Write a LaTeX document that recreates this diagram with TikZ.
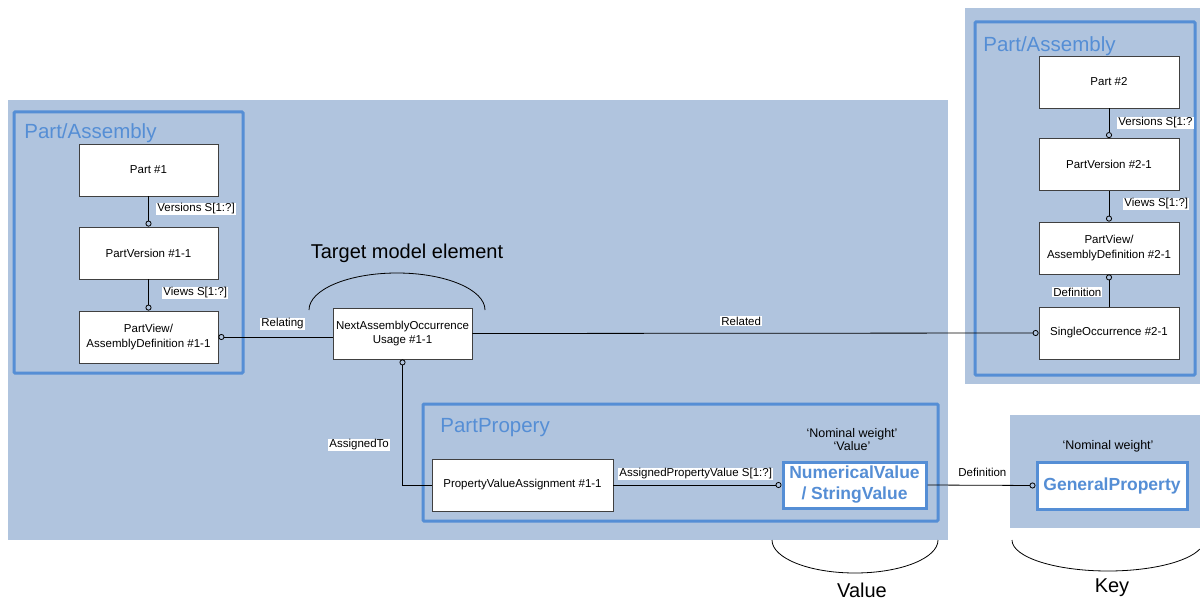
\documentclass[tikz,border=0pt]{standalone}
\usepackage{fontspec}
\setmainfont{Liberation Sans}
\usetikzlibrary{arrows.meta}
\definecolor{panelgray}{RGB}{176,196,222}
\definecolor{frameblue}{RGB}{85,142,213}

\begin{document}
\begin{tikzpicture}[x=1pt,y=-1pt,>={Circle[open,length=6pt]},line width=0.8pt,
  box/.style={draw=black!75,fill=white,inner sep=0pt,align=center,
    minimum width=139,minimum height=52,font=\fontsize{11.5}{14.5}\selectfont},
  keybox/.style={draw=frameblue,line width=3pt,fill=white,inner sep=0pt,align=center,
    text=frameblue,font=\fontsize{17.5}{21}\bfseries\selectfont},
  frame/.style={draw=frameblue,line width=3pt,rounded corners=1pt},
  title/.style={anchor=base west,inner sep=0pt,text=frameblue,font=\fontsize{20.5}{24}\selectfont},
  lbl/.style={anchor=west,fill=white,inner sep=1pt,font=\fontsize{11.5}{14}\selectfont},
  big/.style={anchor=base,inner sep=0pt,font=\fontsize{20}{24}\selectfont},
  quote/.style={anchor=base,inner sep=0pt,font=\fontsize{12.5}{14}\selectfont}]
  \useasboundingbox (0,0) rectangle (1200,599);

  % 背景
  \fill[panelgray] (8,100) rectangle (948,540);
  \fill[panelgray] (965,8) rectangle (1200,384);
  \fill[panelgray] (1010,415) rectangle (1200,528);

  % 边框
  \draw[frame] (14,112) rectangle (243,373);
  \draw[frame] (975,22) rectangle (1195,375);
  \draw[frame] (423,404) rectangle (938,521);
  \node[title] (t1) at (24,139) {Part/Assembly};
  \node[title] (t2) at (983,52) {Part/Assembly};
  \node[title] (t3) at (440,432) {PartPropery};

  % 左边的部件
  \node[box] (p1) at (148.5,170) {Part \#1};
  \node[box] (pv1) at (148.5,253) {PartVersion \#1-1};
  \node[box] (pd1) at (148.5,337) {PartView/\\AssemblyDefinition \#1-1};
  \node[box,minimum height=51] (naou) at (402.5,333.5) {NextAssemblyOccurrence\\Usage \#1-1};
  \node[box,minimum width=181] (pva) at (522.5,485) {PropertyValueAssignment \#1-1};
  \node[keybox,minimum width=143,minimum height=46] (nv) at (854.5,485) {NumericalValue\\/ StringValue};
  \node[keybox,minimum width=150,minimum height=47] (gp) at (1112,485.5) {GeneralProperty};

  % 右边的部件
  \node[box,minimum width=140] (p2) at (1109,82) {Part \#2};
  \node[box,minimum width=140] (pv2) at (1109,164.5) {PartVersion \#2-1};
  \node[box,minimum width=140] (pd2) at (1109,248) {PartView/\\AssemblyDefinition \#2-1};
  \node[box,minimum width=140] (so2) at (1109,333) {SingleOccurrence \#2-1};

  % 连线
  \draw[->] (p1) -- (pv1);
  \draw[->] (pv1) -- (pd1);
  \draw[<-] (pd1.east) -- (pd1.east -| naou.west);
  \draw[->] (naou.east) -- (so2.west);
  \draw[<-] (naou.south) |- (pva.west);
  \draw[->] (pva.east) -- (nv.west);
  \draw[->] (nv.east) -- (gp.west);
  \draw[->] (p2) -- (pv2);
  \draw[->] (pv2) -- (pd2);
  \draw[->] (so2) -- (pd2);

  % 标注
  \node[lbl] (lv1) at (156,209) {Versions S[1:?]};
  \node[lbl] (lw1) at (162,293) {Views S[1:?]};
  \node[lbl] (lrg) at (260,324) {Relating};
  \node[lbl] (lrd) at (720,321) {Related};
  \node[lbl] (lat) at (328,445) {AssignedTo};
  \node[lbl] (lap) at (618,474) {AssignedPropertyValue S[1:?]};
  \node[lbl] (ldf) at (957,472) {Definition};
  \node[lbl] (lv2) at (1117,123) {Versions S[1:?};
  \node[lbl] (lw2) at (1123,204) {Views S[1:?]};
  \node[lbl] (ld2) at (1052,292) {Definition};

  \node[quote] (q1) at (852,437) {‘Nominal weight’};
  \node[quote] (q2) at (852,450) {‘Value’};
  \node[quote] (q3) at (1108,449) {‘Nominal weight’};

  % 括号
  \draw (309,310) arc[start angle=180,end angle=360,x radius=88,y radius=37];
  \draw (772,540) arc[start angle=180,end angle=0,x radius=83,y radius=33];
  \draw (1012,540) arc[start angle=180,end angle=17,x radius=96,y radius=31];
  \node[big] (tme) at (407,258) {Target model element};
  \node[big] (val) at (862,597) {Value};
  \node[big] (key) at (1112,592) {Key};
\end{tikzpicture}
\end{document}
